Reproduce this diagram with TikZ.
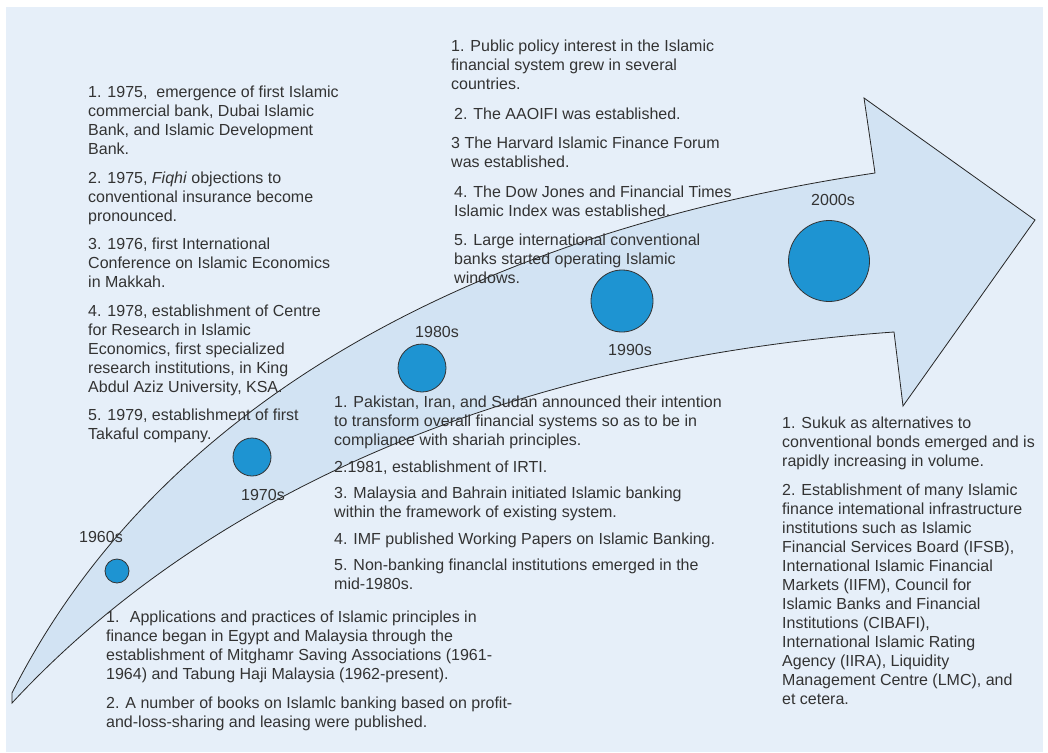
\documentclass[tikz,border=0pt]{standalone}
\usepackage{fontspec}
\setmainfont{Liberation Sans}
\definecolor{pagebg}{HTML}{E6EFF9}
\definecolor{arrowbg}{HTML}{D2E3F3}
\definecolor{dotblue}{HTML}{1E94D2}
\definecolor{inkgray}{HTML}{333333}
\tikzset{
  decade/.style={circle, draw=inkgray, line width=0.8pt, fill=dotblue, inner sep=0pt},
  era/.style={inner sep=0pt, text=inkgray, font=\fontsize{16}{19}\selectfont},
  notes/.style={anchor=north west, align=left, inner sep=0pt, text=inkgray, font=\fontsize{16}{19}\selectfont}
}
\newcommand{\gap}[1][9.5pt]{\\[#1]}

\begin{document}
\begin{tikzpicture}[x=1pt,y=-1pt]
		%%%%% START %%%%%
		
		\fill[white] (0,0) rectangle (1048,752);
		\fill[pagebg] (6,7) rectangle (1043,752);
		
		% bent arrow
		\draw[fill=arrowbg, line width=0.8pt, color=black!85, fill=arrowbg]
		  (12,693) .. controls (160,400) and (480,232) .. (875,173)
		  -- (864,98) -- (1035,220) -- (903,406) -- (894,332)
		  .. controls (500,360) and (200,500) .. (12,703) -- cycle;
		
		% decades
		\node[decade, minimum size=24pt] (d60) at (117,571) {};
		\node[decade, minimum size=38pt] (d70) at (252,457) {};
		\node[decade, minimum size=48pt] (d80) at (422,368) {};
		\node[decade, minimum size=62pt] (d90) at (622,301) {};
		\node[decade, minimum size=81pt] (d00) at (829,261) {};
		
		\node[era] (l60) at (101,537) {1960s};
		\node[era] (l70) at (263,495) {1970s};
		\node[era] (l80) at (437,332) {1980s};
		\node[era] (l90) at (630,350) {1990s};
		\node[era] (l00) at (833,200) {2000s};
		
		% what happened in each decade
		\node[notes] (n70) at (88,86) {1. 1975, \ emergence of first Islamic\\
			commercial bank, Dubai Islamic\\
			Bank, and Islamic Development\\
			Bank.\gap
			2. 1975, \textit{Fiqhi} objections to\\
			conventional insurance become\\
			pronounced.\gap
			3. 1976, first International\\
			Conference on Islamic Economics\\
			in Makkah.\gap
			4. 1978, establishment of Centre\\
			for Research in Islamic\\
			Economics, first specialized\\
			research institutions, in King\\
			Abdul Aziz University, KSA.\gap
			5. 1979, establishment of first\\
			Takaful company.};
		
		\node[notes] (n90) at (451,40) {1. Public policy interest in the Islamic\\
			financial system grew in several\\
			countries.\gap[10.5pt]
			\hspace*{3pt}2. The AAOIFI was established.\gap[10.5pt]
			3 The Harvard Islamic Finance Forum\\
			was established.\gap[10.5pt]
			\hspace*{3pt}4. The Dow Jones and Financial Times\\
			\hspace*{3pt}Islamic Index was established.\gap[10.5pt]
			\hspace*{3pt}5. Large international conventional\\
			\hspace*{3pt}banks started operating Islamic\\
			\hspace*{3pt}windows.};
		
		\node[notes] (n80) at (334,396) {1. Pakistan, Iran, and Sudan announced their intention\\
			to transform overall financial systems so as to be in\\
			compliance with shariah principles.\gap[7.5pt]
			2.1981, establishment of IRTI.\gap[7.5pt]
			3. Malaysia and Bahrain initiated Islamic banking\\
			within the framework of existing system.\gap[7.5pt]
			4. IMF published Working Papers on Islamic Banking.\gap[7.5pt]
			5. Non-banking financlal institutions emerged in the\\
			mid-1980s.};
		
		\node[notes] (n60) at (106,611) {1. \ Applications and practices of Islamic principles in\\
			finance began in Egypt and Malaysia through the\\
			establishment of Mitghamr Saving Associations (1961-\\
			1964) and Tabung Haji Malaysia (1962-present).\gap
			2. A number of books on Islamlc banking based on profit-\\
			and-loss-sharing and leasing were published.};
		
		\node[notes] (n00) at (782,417) {1. Sukuk as alternatives to\\
			conventional bonds emerged and is\\
			rapidly increasing in volume.\gap
			2. Establishment of many Islamic\\
			finance intemational infrastructure\\
			institutions such as Islamic\\
			Financial Services Board (IFSB),\\
			International Islamic Financial\\
			Markets (IIFM), Council for\\
			Islamic Banks and Financial\\
			Institutions (CIBAFI),\\
			International Islamic Rating\\
			Agency (IIRA), Liquidity\\
			Management Centre (LMC), and\\
			et cetera.};
		
		%%%%% END %%%%%
\end{tikzpicture}
\end{document}
